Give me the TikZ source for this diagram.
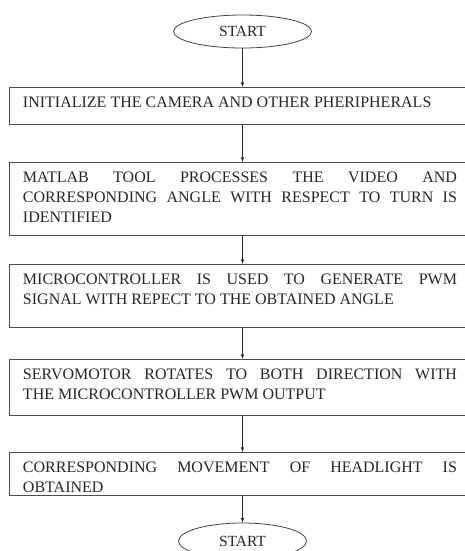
\documentclass[tikz,border=0pt]{standalone}
\usepackage{fontspec}
\setmainfont{Liberation Serif}
\usetikzlibrary{positioning,shapes.geometric}

\newcommand{\steptext}[2]{\parbox[c][#1][t]{434pt}{\fontsize{16}{20}\selectfont
	\sloppy\rule{0pt}{19.5pt}#2}}

\begin{document}
\begin{tikzpicture}[x=1pt,y=-1pt,
	ovalstyle/.style={ellipse, draw=black!75, line width=0.8pt, inner sep=0pt,
	minimum width=138pt, minimum height=33pt, text=black!85,
	font=\fontsize{15.5}{18}\selectfont},
	procbox/.style={rectangle, draw=black!70, line width=1pt, anchor=north west,
	inner xsep=14pt, inner ysep=0pt, text=black!85},
	arrowline/.style={-latex, line width=0.6pt, black!85}
	]
	\useasboundingbox (0,0) rectangle (465,551);
	
	\node[ovalstyle] (start) at (242.5,31.5) {START};
	\node[procbox] (init) at (8.5,87) {\steptext{37pt}{INITIALIZE THE CAMERA AND OTHER PHERIPHERALS}};
	\node[procbox] (matlab) at (8.5,162) {\steptext{73pt}{MATLAB TOOL PROCESSES THE VIDEO AND\linebreak
		CORRESPONDING ANGLE WITH RESPECT TO TURN IS\linebreak IDENTIFIED}};
	\node[procbox] (micro) at (8.5,264) {\steptext{63pt}{MICROCONTROLLER IS USED TO GENERATE PWM\linebreak
		SIGNAL WITH REPECT TO THE OBTAINED ANGLE}};
	\node[procbox] (servo) at (8.5,359) {\steptext{56pt}{SERVOMOTOR ROTATES TO BOTH DIRECTION WITH\linebreak
		THE MICROCONTROLLER PWM OUTPUT}};
	\node[procbox] (headlight) at (8.5,452) {\steptext{43pt}{CORRESPONDING MOVEMENT OF HEADLIGHT IS\linebreak
		OBTAINED}};
	\node[ovalstyle, minimum width=128pt, minimum height=36pt] (finish) at (242.5,541) {START};
	
	\draw[arrowline] (start.south) -- (start.south |- init.north);
	\draw[arrowline] (start.south |- init.south) -- (start.south |- matlab.north);
	\draw[arrowline] (start.south |- matlab.south) -- (start.south |- micro.north);
	\draw[arrowline] (start.south |- micro.south) -- (start.south |- servo.north);
	\draw[arrowline] (start.south |- servo.south) -- (start.south |- headlight.north);
	\draw[arrowline] (start.south |- headlight.south) -- (finish.north);
\end{tikzpicture}
\end{document}
